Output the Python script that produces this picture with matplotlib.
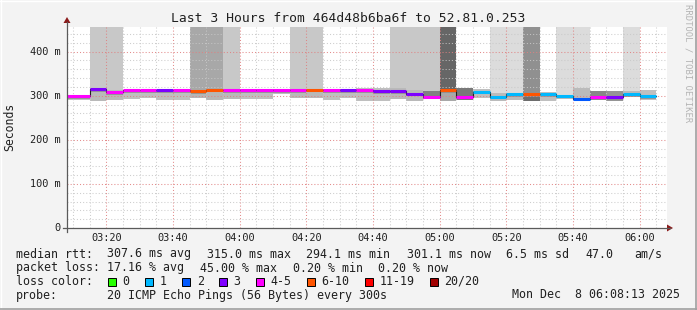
import numpy as np
import matplotlib
matplotlib.use("Agg")
import matplotlib.pyplot as plt
from matplotlib.patches import Polygon, Rectangle
from matplotlib.lines import Line2D

# ---------------- data ----------------
start_min = 3 * 60 + 8 + 13 / 60.0      # 03:08:13
end_min = 6 * 60 + 8 + 13 / 60.0        # 06:08:13
step_min = 5
first_boundary = 195                   # 03:15
last_boundary = 365                    # 06:05

median_ms = [299, 314.5, 307.6, 312, 312, 312, 312, 310.6, 313.7, 313,
             313, 313, 313, 313, 313.7, 313, 313, 313, 310, 310,
             305, 298, 313, 298, 309, 298, 303, 303, 304, 300,
             292.5, 297, 297, 304, 299.6]
loss_count = [4, 3, 4, 4, 4, 3, 4, 8, 8, 4,
              4, 4, 4, 4, 8, 4, 3, 4, 3, 3,
              3, 4, 8, 4, 1, 1, 1, 8, 1, 1,
              2, 4, 3, 1, 1]
smoke_lo = [290.5, 288.3, 290.5, 293.5, 295.7, 290.5, 290.5, 295.7, 290.5, 293.5,
            293.5, 293.5, 304, 295.7, 295.7, 290.5, 294.2, 288.3, 289, 293.5,
            289, 292, 289, 290.5, 294.2, 289, 290.5, 289, 289, 293.5,
            290.5, 290.5, 289, 296.5, 290.5]
smoke_hi = [301, 317, 312, 314, 314, 314, 314, 313, 316, 315,
            315, 315, 315, 315, 316, 315, 315, 316.7, 316.7, 316.7,
            313, 311.5, 315, 317.5, 314.5, 305.5, 305, 305, 309, 302,
            316.7, 311.5, 310.7, 310.7, 313]
# spread of outlier pings reaching the top of the graph (1 = yes)
tall_smoke = [0, 1, 1, 0, 0, 0, 0, 1, 1, 1,
              0, 0, 0, 1, 1, 0, 0, 0, 0, 1,
              1, 1, 1, 0, 0, 1, 1, 1, 0, 1,
              1, 0, 0, 1, 0]

loss_labels = ["0", "1", "2", "3", "4-5", "6-10", "11-19", "20/20"]
loss_limits = [0, 1, 2, 3, 5, 10, 19, 20]

legend_rows = [
    ["median rtt:", "307.6 ms avg", "315.0 ms max", "294.1 ms min",
     "301.1 ms now", "6.5 ms sd", "47.0", "am/s"],
    ["packet loss:", "17.16 % avg", "45.00 % max", "0.20 % min", "0.20 % now"],
]
probe_text = "20 ICMP Echo Pings (56 Bytes) every 300s"
date_text = "Mon Dec  8 06:08:13 2025"
title = "Last 3 Hours from 464d48b6ba6f to 52.81.0.253"
x_tick_vals = [200, 220, 240, 260, 280, 300, 320, 340, 360]
y_tick_vals = [0, 100, 200, 300, 400]

# ---------------- styles ----------------
loss_colors = ["#26ff00", "#00b8ff", "#0059ff", "#7e00ff", "#ff00ff",
               "#ff5500", "#ff0000", "#a10000"]
tall_colors = [None, "#c8c8c8", "#c8c8c8", None, None, None, None, "#a8a8a8", "#a8a8a8", "#c8c8c8",
               None, None, None, "#c8c8c8", "#c8c8c8", None, None, None, None, "#c8c8c8",
               "#c8c8c8", "#c8c8c8", "#666666", None, None, "#dcdcdc", "#dcdcdc", "#909090", None, "#dcdcdc",
               "#dcdcdc", None, None, "#dcdcdc", None]
smoke_colors = ["#b8b8b8"] * 35
smoke_colors[21] = "#7a7a7a"
smoke_colors[23] = "#6a6a6a"
smoke_colors[31] = "#7a7a7a"
smoke_colors[32] = "#8a8a8a"
smoke_colors[27] = "#6a6a6a"
smoke_colors[22] = "#b0b0b0"

W, H = 697, 310
BG = "#f3f3f3"
MONO = "DejaVu Sans Mono"
YMAX = 455.8

def fx(px):
    return px / W

def fy(py):
    return 1 - py / H

fig = plt.figure(figsize=(W / 100, H / 100), dpi=100, facecolor=BG)
ax = fig.add_axes([fx(67), fy(228), 600 / W, 201 / H])
ax.set_facecolor("white")
ax.set_xlim(start_min, end_min)
ax.set_ylim(0, YMAX)
for s in ax.spines.values():
    s.set_visible(False)
ax.set_xticks([])
ax.set_yticks([])

edges = np.concatenate([[start_min], np.arange(first_boundary, last_boundary + 1, step_min)])
x0 = edges[:-1]
wid = np.diff(edges)

def loss_color(n):
    for lim, c in zip(loss_limits, loss_colors):
        if n <= lim:
            return c
    return loss_colors[-1]

med = np.array(median_ms)
lo = np.array(smoke_lo)
hi = np.array(smoke_hi)

# tall outlier smoke
for i in range(len(med)):
    if tall_smoke[i]:
        ax.bar(x0[i], YMAX - lo[i], width=wid[i], bottom=lo[i], align="edge",
               color=tall_colors[i], linewidth=0, zorder=1)
# outer smoke
for i in range(len(med)):
    ax.bar(x0[i], hi[i] - lo[i], width=wid[i], bottom=lo[i], align="edge",
           color=smoke_colors[i], linewidth=0, zorder=2, alpha=0.9)
# inner darker smoke
inner_lo = np.maximum(lo, med - 6)
inner_hi = np.minimum(hi, med + 1.5)
ax.bar(x0, inner_hi - inner_lo, width=wid, bottom=inner_lo, align="edge",
       color="#8c8c8c", linewidth=0, zorder=3, alpha=0.8)

# grid (on top, like rrdtool)
for v in np.arange(first_boundary - 5, end_min, 5):
    major = (v % 20) == 0
    ax.axvline(v, color="#e08080" if major else "#c8c8c8", lw=0.75,
               ls=(0, (1, 2)), zorder=5, alpha=0.9)
for v in np.arange(20, YMAX, 20):
    major = (v % 100) == 0
    ax.axhline(v, color="#e08080" if major else "#c8c8c8", lw=0.75,
               ls=(0, (1, 2)), zorder=5, alpha=0.9)

# median line
ax.step(edges, np.append(med, med[-1]), where="post", color="#202020",
        lw=0.8, zorder=6)
ax.hlines(med, x0, edges[1:], colors=[loss_color(n) for n in loss_count],
          lw=2.2, zorder=7)

# axes lines and arrows
fig.add_artist(Line2D([fx(63), fx(670)], [fy(228), fy(228)], color="#5a5a5a", lw=0.9))
fig.add_artist(Line2D([fx(67), fx(67)], [fy(232), fy(22)], color="#5a5a5a", lw=0.9))
arrow_c = "#8b1a1a"
fig.add_artist(Polygon([[fx(667), fy(224.5)], [fx(667), fy(231.5)], [fx(673), fy(228)]],
                       closed=True, transform=fig.transFigure, color=arrow_c, lw=0))
fig.add_artist(Polygon([[fx(63.5), fy(23)], [fx(70.5), fy(23)], [fx(67), fy(17)]],
                       closed=True, transform=fig.transFigure, color=arrow_c, lw=0))

# tick labels
for v in x_tick_vals:
    ax.text(v, -22, f"{int(v)//60:02d}:{int(v)%60:02d}", ha="center", va="center",
            fontsize=7.4, family=MONO, color="#202020", clip_on=False)
for v in y_tick_vals:
    lab = "0" if v == 0 else f"{v} m"
    ax.text(start_min - 1.8, v, lab, ha="right", va="center",
            fontsize=7.4, family=MONO, color="#202020", clip_on=False)

# title and side texts
fig.text(fx(348), fy(19), title, ha="center", va="center", fontsize=9.35,
         family=MONO, color="#202020")
fig.text(fx(10), fy(127), "Seconds", ha="center", va="center", rotation=90,
         fontsize=8.3, family=MONO, color="#202020")
fig.text(fx(688), fy(4), "RRDTOOL / TOBI OETIKER", ha="center", va="top",
         rotation=270, fontsize=6.4, family=MONO, color="#b4b4b4")

# legend
row_y = [254, 268, 281.5, 295]
row_x = [[16, 107, 207, 306.4, 406.8, 506.4, 585.6, 634.5],
         [16, 107, 199.6, 293, 378.4]]
for r in range(2):
    for txt, xp in zip(legend_rows[r], row_x[r]):
        fig.text(fx(xp), fy(row_y[r]), txt, ha="left", va="center",
                 fontsize=8.35, family=MONO, color="#202020")
fig.text(fx(16), fy(row_y[2]), "loss color:", ha="left", va="center",
         fontsize=8.35, family=MONO, color="#202020")
box_x = [108, 145, 182.3, 219.2, 256, 307.2, 365, 430]
for bx, lab, c in zip(box_x, loss_labels, loss_colors):
    fig.add_artist(Rectangle((fx(bx), fy(row_y[2] + 4)), 8 / W, 8 / H,
                             transform=fig.transFigure, facecolor=c,
                             edgecolor="#000000", lw=0.7))
    fig.text(fx(bx + 14.5), fy(row_y[2]), lab, ha="left", va="center",
             fontsize=8.35, family=MONO, color="#202020")
fig.text(fx(16), fy(row_y[3]), "probe:", ha="left", va="center",
         fontsize=8.35, family=MONO, color="#202020")
fig.text(fx(107), fy(row_y[3]), probe_text, ha="left", va="center",
         fontsize=8.35, family=MONO, color="#202020")
fig.text(fx(680.5), fy(row_y[3]), date_text, ha="right", va="center",
         fontsize=8.35, family=MONO, color="#202020")

# frame
fig.add_artist(Line2D([0, 1], [fy(0.5), fy(0.5)], color="#ffffff", lw=1))
fig.add_artist(Line2D([fx(0.5), fx(0.5)], [0, 1], color="#ffffff", lw=1))
fig.add_artist(Line2D([0, 1], [fy(308.5), fy(308.5)], color="#a0a0a0", lw=1.2))
fig.add_artist(Line2D([fx(695.5), fx(695.5)], [0, 1], color="#a0a0a0", lw=1.2))

fig.savefig("out.png", dpi=100, facecolor=BG)
